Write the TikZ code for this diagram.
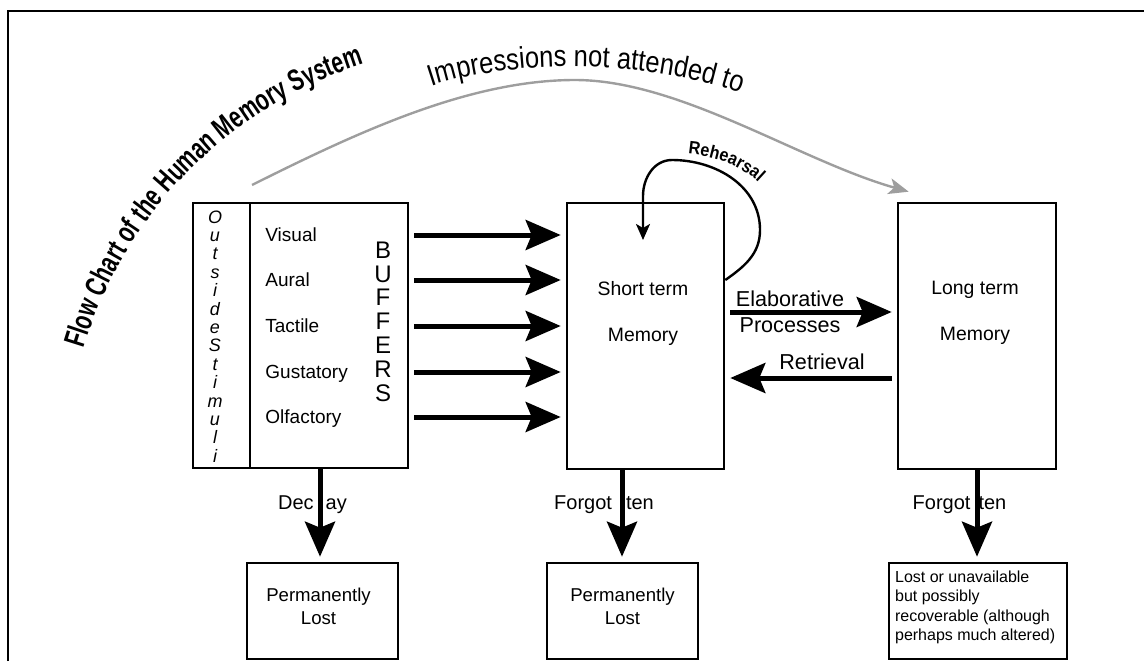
\documentclass[tikz,border=0pt]{standalone}
\usepackage{fontspec}
\setmainfont{Liberation Sans}
\newfontfamily\narrowsans[FakeStretch=0.7]{Liberation Sans}
\newfontfamily\impsans[FakeStretch=0.85]{Liberation Sans}
\newfontfamily\rehsans[FakeStretch=0.9]{Liberation Sans}
\usetikzlibrary{arrows.meta,decorations.text}

% text styles used along the bent paths
\newcommand\titlestyle{\narrowsans\bfseries\fontsize{15}{17}\selectfont}
\newcommand\impstyle{\impsans\fontsize{15}{17}\selectfont}
\newcommand\rehstyle{\rehsans\bfseries\fontsize{9}{10}\selectfont}

\tikzset{
  membox/.style={draw, line width=1.3pt, inner sep=0pt},
  bigarrow/.style={line width=2.5pt, shorten <=2.5pt, shorten >=2.5pt,
    -{Stealth[length=17.5pt,width=15pt,inset=3pt]}},
  sensetxt/.style={anchor=west, inner sep=0pt, text height=1.6ex, text depth=.3ex,
    font=\fontsize{9.5}{11}\selectfont},
  flowtext/.style={inner sep=0pt, align=center, font=\fontsize{10}{12}\selectfont},
  impline/.style={line width=1.2pt, draw=black!38,
    -{Stealth[length=10pt,width=8pt,inset=2.5pt]}},
  rehearse/.style={line width=1.2pt, -{Stealth[length=8pt,width=7pt,inset=2pt]}}
}

\begin{document}
\begin{tikzpicture}[x=0.5pt,y=0.5pt]

    % Fix the canvas to the size of the page
    \useasboundingbox (0,0) rectangle (1144,661);

    % Frame round the page (only left and top edges show)
    \draw[line width=1.3pt] (8,0) -- (8,650) -- (1144,650);

    % Title bent along an arc
    \coordinate (ttl) at (493,190);
    \path[decorate, decoration={text along path, text align=center,
        text={|\titlestyle|Flow Chart of the Human Memory System}}]
      ([shift={(165:213.5pt)}]ttl) arc[start angle=165, end angle=106, radius=213.5pt];

    % The memory stores
    \node[membox, minimum width=28.5pt, minimum height=132.5pt] (stim) at (221.5,325.5) {};
    \node[membox, minimum width=79pt, minimum height=132.5pt] (buf) at (329,325.5) {};
    \node[membox, minimum width=78.5pt, minimum height=133pt] (stm) at (645.5,325) {};
    \node[membox, minimum width=79pt, minimum height=133pt] (ltm) at (977,325) {};

    % Where things end up
    \node[membox, minimum width=75.5pt, minimum height=48pt] (lost1) at (322.5,50) {};
    \node[membox, minimum width=75.5pt, minimum height=48pt] (lost2) at (622.5,50) {};
    \node[membox, minimum width=89pt, minimum height=48pt] (lost3) at (978,50) {};

    % Vertical words in the first two boxes
    \node[inner sep=0pt, align=center, font=\fontsize{9}{9.2}\selectfont\itshape] (stimtxt)
      at (215,324.5) {O\\u\\t\\s\\i\\d\\e\\S\\t\\i\\m\\u\\l\\i};
    \node[inner sep=0pt, align=center, font=\fontsize{12}{11.9}\selectfont] (buftxt)
      at (383,339.5) {B\\U\\F\\F\\E\\R\\S};

    % The five senses
    \node[sensetxt] (vis) at (265,426) {Visual};
    \node[sensetxt] (aur) at (265,381) {Aural};
    \node[sensetxt] (tac) at (265,335) {Tactile};
    \node[sensetxt] (gus) at (265,289) {Gustatory};
    \node[sensetxt] (olf) at (265,244) {Olfactory};

    % Buffers feed short term memory
    \draw[bigarrow] (buf.east |- vis) -- (stm.west |- vis);
    \draw[bigarrow] (buf.east |- aur) -- (stm.west |- aur);
    \draw[bigarrow] (buf.east |- tac) -- (stm.west |- tac);
    \draw[bigarrow] (buf.east |- gus) -- (stm.west |- gus);
    \draw[bigarrow] (buf.east |- olf) -- (stm.west |- olf);

    % Texts inside the memory boxes
    \node[flowtext, font=\fontsize{9.7}{23}\selectfont] (stmtxt) at (643,348) {Short term\\Memory};
    \node[flowtext, font=\fontsize{9.7}{23}\selectfont] (ltmtxt) at (975,348) {Long term\\Memory};

    % Between short and long term memory
    \coordinate (elab) at (0,349);
    \coordinate (retr) at (0,283);
    \node[flowtext, font=\fontsize{10.8}{13}\selectfont] (elabtxt) at (790,349) {Elaborative\\Processes};
    \node[flowtext, font=\fontsize{10.8}{13}\selectfont] (retrtxt) at (822,299) {Retrieval};
    \draw[bigarrow] (stm.east |- elab) -- (ltm.west |- elab);
    \draw[bigarrow] (ltm.west |- retr) -- (stm.east |- retr);

    % Rehearsal loop back into short term memory
    \coordinate (rehs) at (0,381);
    \coordinate (rehe) at (643,421);
    \draw[rehearse] (stm.east |- rehs) to[out=35,in=-90] (760,431)
      to[out=90,in=0] (672,501) to[out=180,in=90] (643,465) -- (rehe);
    \path[decorate, decoration={text along path, text align=center,
        text={|\rehstyle|Rehearsal}}]
      (674,508) to[out=-3,in=130] (768,468);

    % Impressions that skip short term memory
    \coordinate (imp) at (252,476);
    \draw[impline] (imp) .. controls (360,530) and (470,581) .. (575,581)
      .. controls (680,581) and (800,500) .. ([shift={(6pt,5pt)}]ltm.north west);
    \path[decorate, decoration={text along path, text align=center,
        text={|\impstyle|Impressions not attended to}}]
      (426,573) .. controls (500,600) and (640,605) .. (746,566);

    % Labels of the downward arrows (the arrows run over them)
    \node[flowtext] (decaytxt) at (312.5,156) {Dec\hspace{6pt}ay};
    \node[flowtext] (fgt1txt) at (604,156) {Forgot\hspace{7pt}ten};
    \node[flowtext] (fgt2txt) at (959.5,156) {Forgot\hspace{4pt}ten};

    % Losses
    \coordinate (dec) at (320,0);
    \coordinate (fgt1) at (622,0);
    \coordinate (fgt2) at (977,0);
    \draw[bigarrow, shorten <=0pt] (dec |- buf.south) -- (dec |- lost1.north);
    \draw[bigarrow, shorten <=0pt] (fgt1 |- stm.south) -- (fgt1 |- lost2.north);
    \draw[bigarrow, shorten <=0pt] (fgt2 |- ltm.south) -- (fgt2 |- lost3.north);

    % Texts in the bottom boxes
    \node[flowtext, font=\fontsize{9.3}{11.5}\selectfont] (lost1txt)
      at ([shift={(-2pt,2.5pt)}]lost1.center) {Permanently\\Lost};
    \node[flowtext, font=\fontsize{9.3}{11.5}\selectfont] (lost2txt)
      at ([yshift=2.5pt]lost2.center) {Permanently\\Lost};
    \node[anchor=north west, inner sep=0pt, align=left, font=\fontsize{8}{9.6}\selectfont] (lost3txt)
      at ([shift={(3.5pt,-4.5pt)}]lost3.north west)
      {Lost or unavailable\\but possibly\\recoverable (although\\perhaps much altered)};

\end{tikzpicture}
\end{document}
